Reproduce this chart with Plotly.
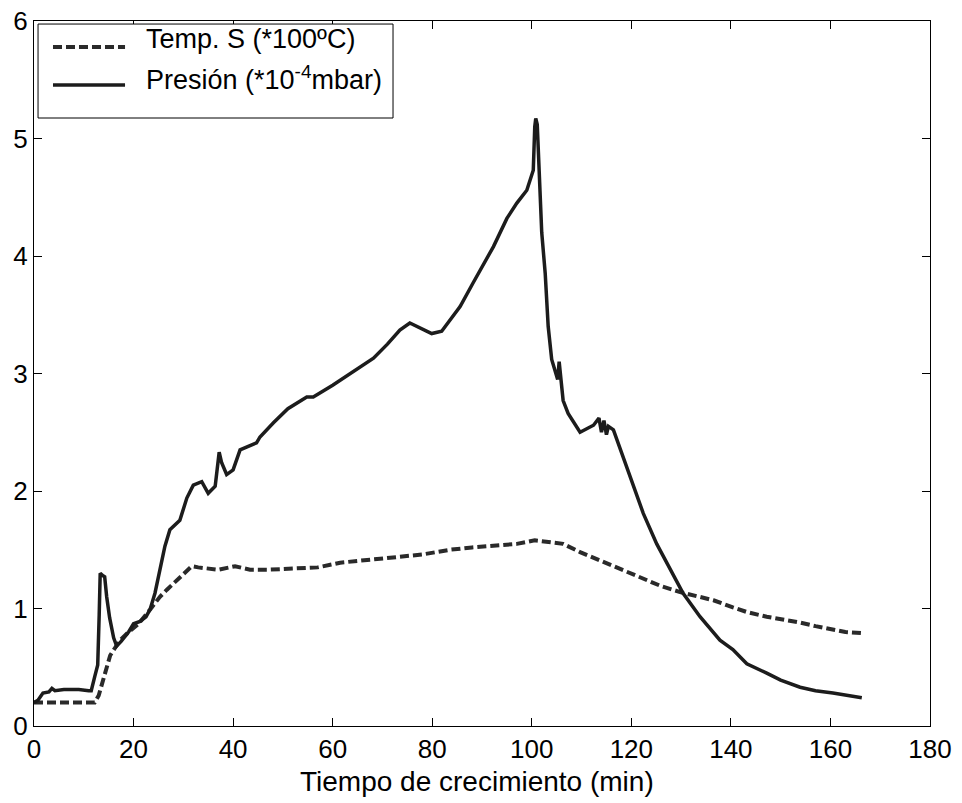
import plotly.graph_objects as go

# Presión (*10^-4 mbar) vs tiempo (min)
pres_t = [0, 0.8, 1.8, 3, 3.6, 4.2, 6, 9, 11, 11.5, 12.2, 12.8, 13.1, 13.3, 13.8, 14.2,
          14.6, 15.2, 16, 16.6, 17.5, 19, 20, 21.3, 22.5, 23.3, 24.3, 25.3, 26.3, 27.3,
          29.3, 30.7, 32, 33.7, 35, 36.4, 37.2, 37.7, 38.7, 40, 41.4, 44.7, 45.4, 48.1,
          51, 54.8, 56.1, 60, 63.5, 68.2, 71, 73.5, 75.5, 77.5, 79.9, 81.9, 85.6, 88.2,
          92.3, 95, 97, 99, 100.3, 100.6, 100.8, 101.1, 101.3, 101.6, 102, 102.7, 103.3,
          104, 104.7, 105.2, 105.5, 105.8, 106.3, 107.3, 109.7, 112.4, 113.5, 114, 114.5,
          115, 115.4, 116.4, 118.4, 120.4, 122.4, 125.1, 127.8, 130.4, 133.8, 137.8,
          140.4, 143.2, 147.2, 150, 153.9, 157, 160.5, 163, 166.3]
pres_v = [0.2, 0.22, 0.28, 0.29, 0.32, 0.3, 0.31, 0.31, 0.3, 0.3, 0.42, 0.52, 0.95, 1.30,
          1.28, 1.27, 1.1, 0.92, 0.75, 0.68, 0.72, 0.8, 0.87, 0.89, 0.93, 0.99, 1.13, 1.33,
          1.53, 1.67, 1.75, 1.94, 2.05, 2.08, 1.98, 2.04, 2.33, 2.24, 2.14, 2.18, 2.35,
          2.41, 2.46, 2.58, 2.7, 2.80, 2.80, 2.9, 3.00, 3.13, 3.25, 3.37, 3.43, 3.39, 3.34,
          3.36, 3.57, 3.77, 4.08, 4.32, 4.45, 4.56, 4.73, 5.1, 5.17, 5.12, 4.88, 4.56, 4.2,
          3.85, 3.4, 3.12, 3.03, 2.95, 3.1, 2.95, 2.77, 2.66, 2.50, 2.56, 2.62, 2.5, 2.6,
          2.48, 2.55, 2.52, 2.29, 2.04, 1.81, 1.55, 1.33, 1.13, 0.93, 0.73, 0.65, 0.53,
          0.45, 0.39, 0.33, 0.3, 0.28, 0.26, 0.24]

# Temp. S (*100 ºC)
temp_t = [0, 5, 10, 12.2, 13, 14, 15.3, 16.2, 17.3, 19, 21, 23.3, 25.3, 26.7, 28.7, 30.5,
          31.7, 33, 34.7, 37, 40.4, 41.5, 43.4, 47, 53.4, 57, 61.5, 67, 73.5, 78, 83.6,
          88, 93.6, 97, 100.6, 103, 106.3, 109.7, 113.7, 116.4, 120, 123.1, 126, 129.8,
          133.8, 136.5, 140.4, 143.2, 147.2, 150, 153.9, 157, 160.5, 163, 166.3]
temp_v = [0.2, 0.2, 0.2, 0.2, 0.26, 0.4, 0.6, 0.66, 0.73, 0.8, 0.87, 0.99, 1.1, 1.16, 1.24,
          1.31, 1.36, 1.35, 1.34, 1.33, 1.36, 1.35, 1.33, 1.33, 1.34, 1.35, 1.39, 1.41,
          1.44, 1.46, 1.50, 1.52, 1.54, 1.55, 1.58, 1.57, 1.55, 1.48, 1.41, 1.36, 1.30,
          1.24, 1.19, 1.14, 1.10, 1.07, 1.01, 0.97, 0.93, 0.91, 0.88, 0.85, 0.82, 0.80, 0.79]

x_ticks = list(range(0, 181, 20))
y_ticks = list(range(0, 7))

FONT = "Liberation Sans, Arial, sans-serif"
INK = "#1c1c1c"

fig = go.Figure()
fig.add_trace(go.Scatter(x=temp_t, y=temp_v, mode="lines", name="Temp. S (*100ºC)",
                         line={"color": "#2a2a2a", "width": 4, "dash": "9px,4px"}))
fig.add_trace(go.Scatter(x=pres_t, y=pres_v, mode="lines", name="Presión (*10<sup>-4</sup>mbar)",
                         line={"color": INK, "width": 3.5}))

ax = dict(showline=True, linecolor="black", linewidth=1, mirror="ticks",
          ticks="inside", ticklen=8, tickcolor="black", showgrid=False,
          zeroline=False, automargin=False, ticklabeloverflow="allow",
          tickfont={"size": 26, "color": "black"})
# the page body adds an 8px offset, margins compensate for it
fig.update_layout(
    width=962, height=803,
    margin={"l": 26, "r": 40, "t": 13, "b": 85},
    paper_bgcolor="white", plot_bgcolor="white",
    font={"family": FONT, "color": "black"},
    showlegend=False,
    xaxis={**ax, "range": [0, 180], "tickvals": x_ticks},
    yaxis={**ax, "range": [0, 6], "tickvals": y_ticks},
)

# x axis title placed directly under the tick labels
fig.add_annotation(xref="paper", yref="paper", x=0.494, y=-0.079, text="Tiempo de crecimiento (min)",
                   showarrow=False, xanchor="center", yanchor="middle",
                   font={"size": 28, "color": "black"})

# legend box drawn by hand so the line samples are as long as in the original
fig.add_shape(type="rect", xref="paper", yref="paper", x0=0.0045, x1=0.4007, y0=0.8624, y1=0.9957,
              line={"color": "black", "width": 1}, fillcolor="white")
rows = [("Temp. S (*100ºC)", 0.9631, 0.9745, "#2a2a2a", "9px,4px", 4),
        ("Presión (*10<sup>-4</sup>mbar)", 0.9092, 0.9190, INK, "solid", 3.5)]
for text, yl, yt, col, dash, w in rows:
    fig.add_shape(type="line", xref="paper", yref="paper", x0=0.0212, x1=0.1016, y0=yl, y1=yl,
                  line={"color": col, "width": w, "dash": dash})
    fig.add_annotation(xref="paper", yref="paper", x=0.1232, y=yt, text=text, showarrow=False,
                       xanchor="left", yanchor="middle", font={"size": 27, "color": "black"})

fig.write_html("out.html")
